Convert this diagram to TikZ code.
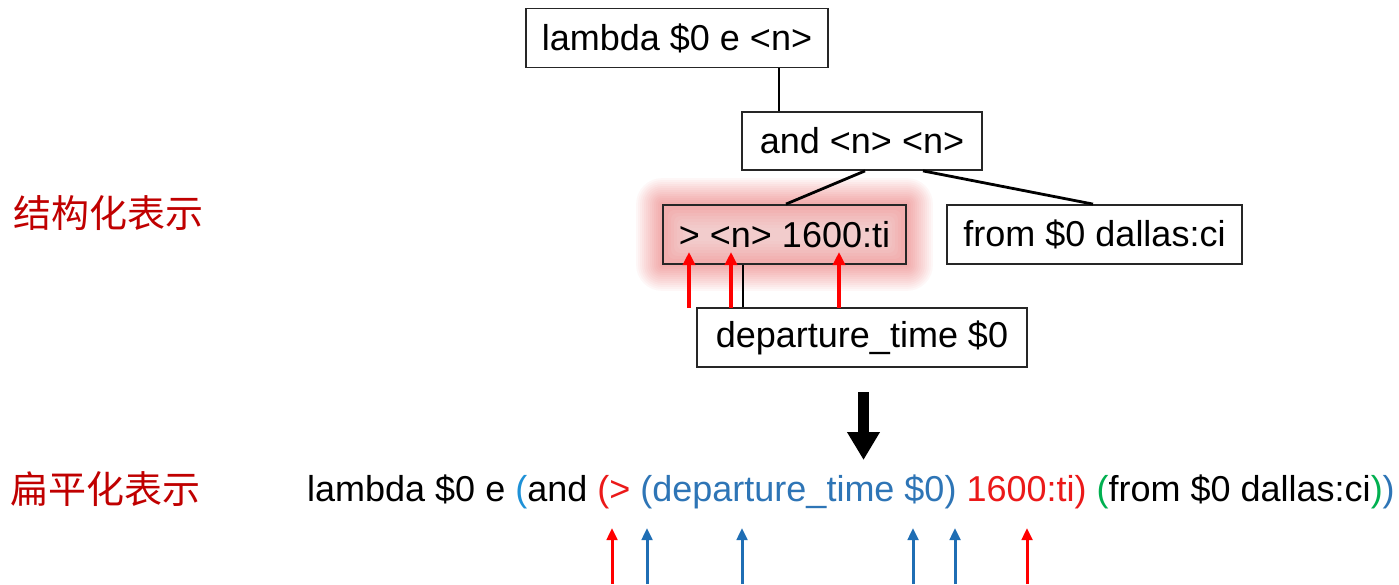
\documentclass[tikz,border=0pt]{standalone}
\usepackage{fontspec}
\setmainfont{Liberation Sans}
\newfontfamily\cjk{Noto Sans CJK SC}
\usetikzlibrary{arrows.meta,backgrounds}
\definecolor{labelred}{RGB}{192,0,0}
\definecolor{hlred}{RGB}{235,25,25}
\definecolor{pblue}{RGB}{46,117,182}
\definecolor{lblue}{RGB}{30,145,215}
\definecolor{pgreen}{RGB}{0,176,80}
\definecolor{glowred}{RGB}{232,50,50}
\definecolor{ptrblue}{RGB}{31,110,180}

\begin{document}
\begin{tikzpicture}[x=1pt,y=-1pt,
  tree/.style={draw=black!85, line width=1.8pt, inner sep=0pt,
    font=\fontsize{36}{43}\selectfont, minimum height=59pt},
  edge/.style={line width=2.8pt, black},
  ptr/.style={line width=3.4pt, -{Triangle[width=12pt,length=13pt]}},
  flatptr/.style={line width=3pt, -{Triangle[width=10.5pt,length=12pt]}},
  sidelabel/.style={font=\cjk\fontsize{38}{46}\selectfont, text=labelred, inner sep=0pt},
]
\useasboundingbox (0,0) rectangle (1399,584);

% tree of the logical form
\node[tree, minimum width=302pt] (lam) at (677,38) {lambda \$0 e <n>};
\node[tree, minimum width=240pt, minimum height=58pt] (andn) at (862,141) {and <n> <n>};
\node[tree, minimum width=243pt] (gt) at (784.5,234.5) {> <n> 1600:ti};
\node[tree, minimum width=295pt] (fr) at (1094.5,234.5) {from \$0 dallas:ci};
\node[tree, minimum width=330pt] (dep) at (862,337.5) {departure\_time \$0};

% white page and a soft highlight behind the comparison node
\begin{pgfonlayer}{background}
  \fill[white] (0,0) rectangle (1399,584);
  \foreach \o in {2,4,...,26}
    \fill[glowred, opacity=0.036, rounded corners=\o pt]
      ([shift={(-\o pt,\o pt)}]gt.north west) rectangle ([shift={(\o pt,-\o pt)}]gt.south east);
  \foreach \o in {6,9,...,24}
    \fill[white, opacity=0.07, rounded corners=6pt]
      ([shift={(\o pt,-\o pt)}]gt.north west) rectangle ([shift={(-\o pt,\o pt)}]gt.south east);
\end{pgfonlayer}

\draw[edge] ([xshift=102pt]lam.south) -- ([xshift=-83pt]andn.north);
\draw[edge] ([xshift=3pt]andn.south) -- ([xshift=1.5pt]gt.north);
\draw[edge] ([xshift=61pt]andn.south) -- ([xshift=-1.5pt]fr.north);
\draw[edge] ([xshift=-41.5pt]gt.south) -- ([xshift=-119pt]dep.north);

% pointers into the comparison node
\coordinate (a1) at (689,308); \coordinate (b1) at (689,252);
\coordinate (a2) at (731,308); \coordinate (b2) at (731,252);
\coordinate (a3) at (839,308); \coordinate (b3) at (839,252);
\draw[ptr, red] (a1) -- (b1);
\draw[ptr, red] (a2) -- (b2);
\draw[ptr, red] (a3) -- (b3);

% transformation arrow
\coordinate (d1) at (863.5,392);
\coordinate (d2) at (863.5,460);
\draw[line width=11pt, -{Triangle[width=31pt,length=28pt]}] (d1) -- (d2);

% side labels
\node[sidelabel] (s1) at (108,213) {结构化表示};
\node[sidelabel] (s2) at (105,489) {扁平化表示};

% flattened form
\node[anchor=base west, inner sep=0pt, font=\fontsize{36}{43}\selectfont] (flat) at (307,501)
  {lambda \$0 e \textcolor{lblue}{(}and \textcolor{hlred}{(>} \textcolor{pblue}{(departure\_time \$0)} \textcolor{hlred}{1600:ti)} \textcolor{pgreen}{(}from \$0 dallas:ci\textcolor{pgreen}{)}\textcolor{pblue}{)}};

% pointers under the flattened form
\foreach \x/\c [count=\i] in {612/red, 647/ptrblue, 742/ptrblue, 913/ptrblue, 955/ptrblue, 1027/red} {
  \coordinate (f\i a) at (\x,584);
  \coordinate (f\i b) at (\x,528);
  \draw[flatptr, \c] (f\i a) -- (f\i b);
}
\end{tikzpicture}
\end{document}
